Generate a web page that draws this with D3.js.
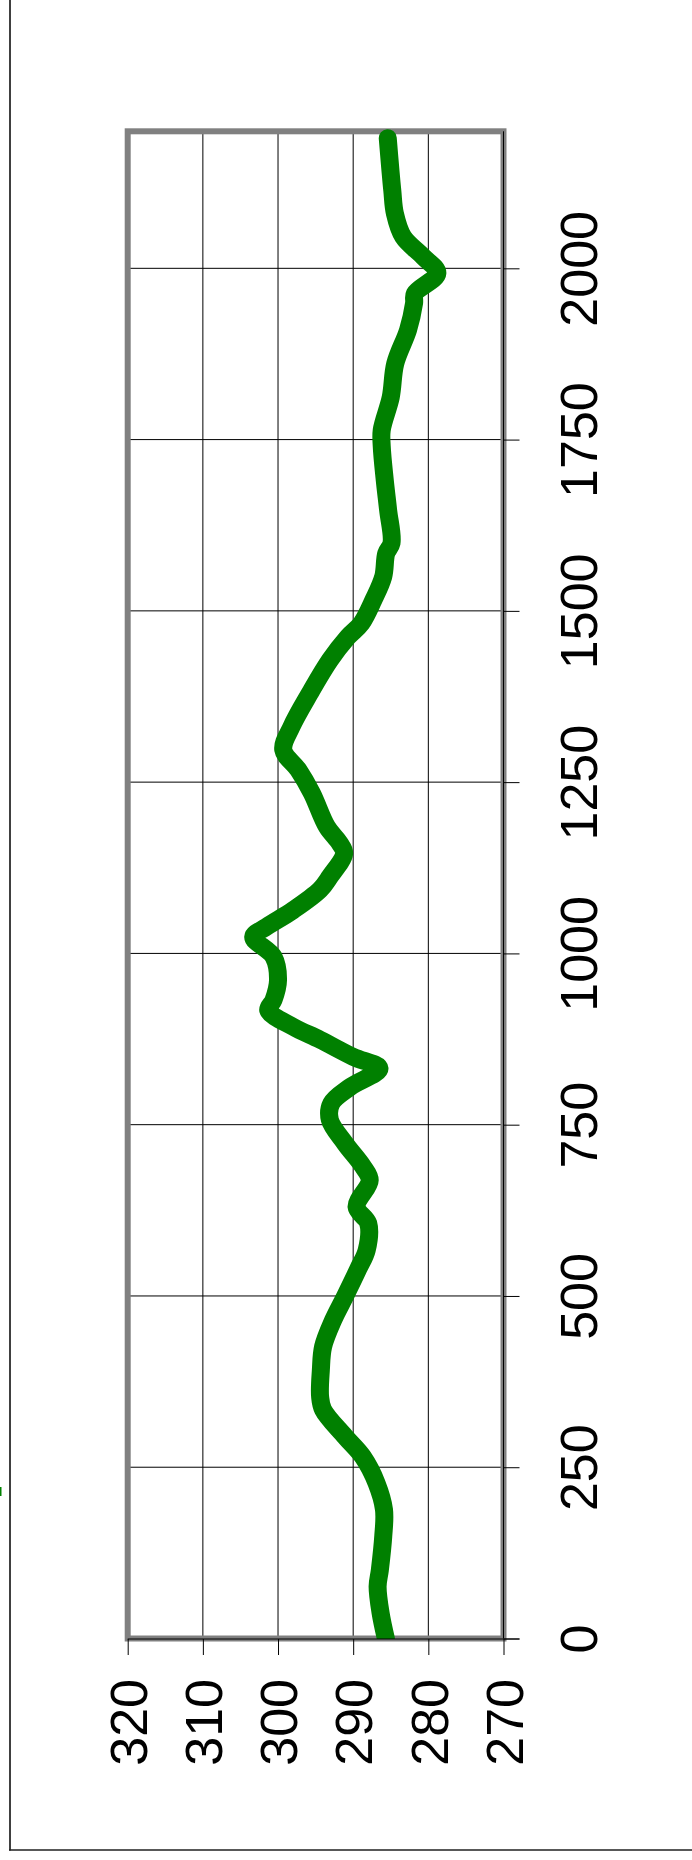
<!DOCTYPE html>
<html>
<head>
<meta charset="utf-8">
<script src="https://cdn.jsdelivr.net/npm/d3@7"></script>
<style>
  html, body { margin: 0; padding: 0; background: #ffffff; }
  svg { display: block; }
</style>
</head>
<body>
<svg id="chart" width="692" height="1860"></svg>
<script>
// ---- data ----
const years = [0, 37, 76, 100, 149, 188, 227, 265, 295, 334, 353, 392, 426, 465, 499, 540, 567, 606, 630, 669, 689, 723, 757, 781, 805, 832, 849, 874, 893, 917, 932, 961, 995, 1024, 1039, 1063, 1093, 1112, 1146, 1161, 1185, 1234, 1268, 1297, 1331, 1380, 1428, 1462, 1482, 1516, 1550, 1584, 1599, 1647, 1691, 1740, 1764, 1812, 1861, 1910, 1949, 1963, 1993, 2017, 2046, 2080, 2114, 2190];
const values = [285.65, 286.35, 286.75, 286.45, 286.0, 285.9, 286.9, 288.7, 291.1, 294.0, 294.4, 294.3, 294.0, 292.65, 291.1, 289.3, 288.2, 288.0, 289.55, 287.8, 288.7, 291.1, 293.1, 292.9, 290.4, 286.5, 290.0, 294.4, 298.0, 301.3, 300.6, 300.0, 300.6, 303.3, 301.5, 298.0, 294.4, 293.1, 291.2, 291.8, 293.5, 295.5, 297.3, 299.3, 298.2, 295.75, 293.1, 290.7, 288.9, 287.3, 286.0, 285.6, 284.9, 285.35, 285.8, 286.2, 286.2, 285.0, 284.4, 282.7, 281.9, 281.8, 278.8, 280.7, 283.35, 284.45, 284.8, 285.4];
const valueTicks = [320, 310, 300, 290, 280, 270];
const yearTicks = [0, 250, 500, 750, 1000, 1250, 1500, 1750, 2000];
const valueDomain = [320, 270];
const yearDomain = [0, 2200];

const data = years.map((t, i) => ({ t: t, v: values[i] }));

// ---- layout ----
const FONT = "'Liberation Sans', Arial, Helvetica, sans-serif";
const svg = d3.select("#chart");
const plot = { left: 127.7, right: 503.5, top: 131.3, bottom: 1638.5 };

const x = d3.scaleLinear().domain(valueDomain).range([plot.left, plot.right]);
const y = d3.scaleLinear().domain(yearDomain).range([plot.bottom, plot.top]);

// outer box (partially visible)
svg.append("line").attr("x1", 10).attr("x2", 10).attr("y1", 0).attr("y2", 1850.5)
  .attr("stroke", "#404040").attr("stroke-width", 2);
svg.append("line").attr("x1", 9).attr("x2", 692).attr("y1", 1850).attr("y2", 1850)
  .attr("stroke", "#202020").attr("stroke-width", 1.5);

// legend key stub (cut off at the left edge)
svg.append("line").attr("x1", -20).attr("x2", 1.5).attr("y1", 1491.5).attr("y2", 1491.5)
  .attr("stroke", "#008000").attr("stroke-width", 9);

// gridlines
svg.append("g").selectAll("line").data(valueTicks.slice(1, -1)).join("line")
  .attr("x1", d => x(d)).attr("x2", d => x(d))
  .attr("y1", plot.top).attr("y2", plot.bottom)
  .attr("stroke", "#000").attr("stroke-width", 1);
svg.append("g").selectAll("line").data(yearTicks.slice(1)).join("line")
  .attr("x1", plot.left).attr("x2", plot.right)
  .attr("y1", d => y(d)).attr("y2", d => y(d))
  .attr("stroke", "#000").attr("stroke-width", 1);

// plot frame
svg.append("rect")
  .attr("x", plot.left).attr("y", plot.top)
  .attr("width", plot.right - plot.left).attr("height", plot.bottom - plot.top)
  .attr("fill", "none").attr("stroke", "#808080").attr("stroke-width", 6);

// clip so the series stops at the bottom of the plot
svg.append("clipPath").attr("id", "clip").append("rect")
  .attr("x", 0).attr("y", 0).attr("width", 692).attr("height", plot.bottom + 0.5);

// series line
const line = d3.line()
  .x(d => x(d.v))
  .y(d => y(d.t))
  .curve(d3.curveCatmullRom.alpha(0.5));

svg.append("path")
  .datum(data)
  .attr("clip-path", "url(#clip)")
  .attr("d", line)
  .attr("fill", "none")
  .attr("stroke", "#008000")
  .attr("stroke-width", 18)
  .attr("stroke-linecap", "round")
  .attr("stroke-linejoin", "round");

// value axis (bottom)
const xAxis = d3.axisBottom(x).tickValues(valueTicks).tickSize(16).tickSizeOuter(0).tickFormat(d3.format("d"));
const gx = svg.append("g").attr("transform", `translate(0,${plot.bottom + 0.5})`).call(xAxis)
  .attr("font-family", FONT).attr("font-size", 52);
gx.select(".domain").attr("d", `M${plot.left},0H${plot.right + 16}`).attr("stroke", "#000");
gx.selectAll(".tick line").attr("stroke", "#000");
gx.selectAll(".tick text")
  .attr("font-family", FONT)
  .attr("font-size", 52)
  .attr("fill", "#000")
  .attr("text-anchor", "end")
  .attr("x", 0).attr("y", 0).attr("dy", "0.36em")
  .attr("transform", "translate(0,40) rotate(-90)");

// year axis (right)
const yAxis = d3.axisRight(y).tickValues(yearTicks).tickSize(16).tickSizeOuter(0).tickFormat(d3.format("d"));
const gy = svg.append("g").attr("transform", `translate(${plot.right},0)`).call(yAxis)
  .attr("font-family", FONT).attr("font-size", 52);
gy.select(".domain").attr("d", `M0,${plot.top}V${plot.bottom}`).attr("stroke", "#000");
gy.selectAll(".tick line").attr("stroke", "#000");
gy.selectAll(".tick text")
  .attr("font-family", FONT)
  .attr("font-size", 52)
  .attr("fill", "#000")
  .attr("text-anchor", "middle")
  .attr("x", 0).attr("y", 0).attr("dy", 0)
  .attr("transform", "translate(93,0) rotate(-90)");
</script>
</body>
</html>
